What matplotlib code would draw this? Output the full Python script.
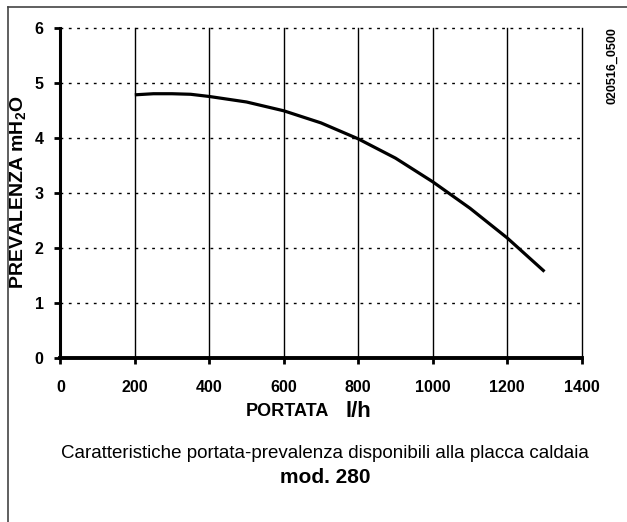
import matplotlib
matplotlib.use("Agg")
import matplotlib.pyplot as plt
from matplotlib.lines import Line2D

plt.rcParams['font.family'] = ['Liberation Sans', 'DejaVu Sans']
plt.rcParams['mathtext.fontset'] = 'custom'
plt.rcParams['mathtext.rm'] = 'Liberation Sans'
plt.rcParams['mathtext.bf'] = 'Liberation Sans:bold'

# Flow rate (l/h) vs available head (m H2O)
portata = [200, 250, 300, 350, 400, 500, 600, 700, 800, 900, 1000, 1100, 1200, 1300]
prevalenza = [4.78, 4.80, 4.80, 4.79, 4.75, 4.65, 4.49, 4.27, 3.98, 3.63, 3.20, 2.72, 2.18, 1.57]

x_ticks = [0, 200, 400, 600, 800, 1000, 1200, 1400]
y_ticks = [0, 1, 2, 3, 4, 5, 6]

fig = plt.figure(figsize=(6.27, 5.22), dpi=100)
ax = fig.add_axes([0.0962, 0.3142, 0.8316, 0.6328])

ax.set_xlim(0, 1400)
ax.set_ylim(0, 6)

# grid: solid verticals, dotted horizontals
for xv in x_ticks[1:]:
    ax.axvline(xv, color='black', lw=1.0, zorder=1, clip_on=False)
for yv in y_ticks[1:]:
    ax.axhline(yv, color='black', lw=1.0, ls=(0, (2, 4)), zorder=1, clip_on=False)

ax.plot(portata, prevalenza, color='black', lw=2.3, solid_capstyle='butt', zorder=3)

for side in ['top', 'right']:
    ax.spines[side].set_visible(False)
ax.spines['left'].set_linewidth(2.2)
ax.spines['bottom'].set_linewidth(2.8)

ax.set_xticks(x_ticks)
ax.set_yticks(y_ticks)
ax.tick_params(axis='both', direction='out', length=4, width=2, labelsize=11.5)
ax.tick_params(axis='x', pad=12)
ax.tick_params(axis='y', pad=8)
for lab in ax.get_xticklabels() + ax.get_yticklabels():
    lab.set_fontweight('bold')

fig.text(0.030, 0.631, r'PREVALENZA mH$_\mathbf{2}$O', rotation=90, fontsize=14,
         fontweight='bold', ha='center', va='center')
fig.text(0.459, 0.212, 'PORTATA', fontsize=13, fontweight='bold', ha='center', va='center')
fig.text(0.572, 0.211, 'l/h', fontsize=16, fontweight='bold', ha='center', va='center')

fig.text(0.518, 0.132, 'Caratteristiche portata-prevalenza disponibili alla placca caldaia',
         fontsize=13.5, ha='center', va='center')
fig.text(0.519, 0.086, 'mod. 280', fontsize=15, fontweight='bold', ha='center', va='center')

fig.text(0.976, 0.874, '020516_0500', rotation=90, fontsize=9, fontweight='bold',
         ha='center', va='center')

# outer frame
fig.add_artist(Line2D([0.012, 0.012], [0.0, 0.987], color='#444444', lw=1.2))
fig.add_artist(Line2D([0.012, 1.0], [0.987, 0.987], color='#444444', lw=1.2))

fig.savefig('out.png', dpi=100)
